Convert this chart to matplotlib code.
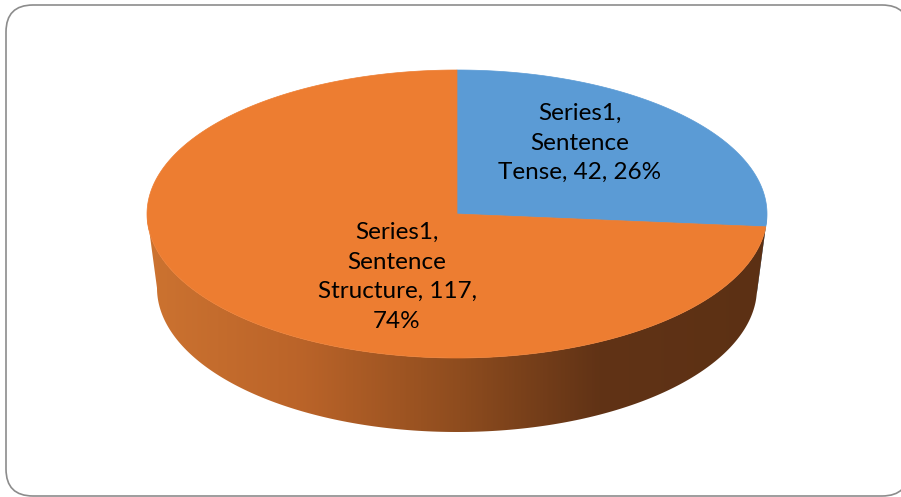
"""3D-style pie chart: Sentence Tense vs Sentence Structure"""

import textwrap

import matplotlib
matplotlib.use('Agg')
import matplotlib.pyplot as plt
import numpy as np
from matplotlib.patches import Polygon, FancyBboxPatch
from matplotlib.colors import LinearSegmentedColormap

# data
series_name = 'Series1'
categories = ['Sentence Tense', 'Sentence Structure']
values = [42, 117]
top_colors = ['#5B9BD5', '#ED7D31']
label_wrap = [14, 15]
label_pos = [(580, 143), (397, 277)]   # label centres in pixel coords

# geometry of the tilted pie (pixels)
cx, cy = 457, 214
a, b = 310, 144          # top ellipse
a2, b2 = 300, 144        # bottom ellipse (slight perspective)
depth = 74


def ellipse_pts(t, rx, ry, dy=0):
    return np.column_stack([cx + rx * np.cos(t), cy + dy - ry * np.sin(t)])


fig = plt.figure(figsize=(9.01, 4.97), dpi=100)
ax = fig.add_axes([0, 0, 1, 1])
ax.set_xlim(0, 901)
ax.set_ylim(497, 0)
ax.axis('off')

# chart frame (right edge runs just off the picture)
frame = FancyBboxPatch((6, 5), 903, 491, boxstyle='round,pad=0,rounding_size=27',
                       facecolor='white', edgecolor='#8c8c8c', lw=1.2, zorder=0)
ax.add_patch(frame)

total = sum(values)
fracs = [v / total for v in values]
starts, ends = [], []
ang = np.pi / 2
for f in fracs:
    starts.append(ang)
    ang -= f * 2 * np.pi
    ends.append(ang)

# side walls (front half only: angles between -pi and 0)
side_cmap = LinearSegmentedColormap.from_list('side', [
    (0.0, (0.80, 0.45, 0.19)),
    (0.25, (0.73, 0.39, 0.16)),
    (0.5, (0.56, 0.30, 0.12)),
    (0.73, (0.38, 0.20, 0.085)),
    (1.0, (0.36, 0.19, 0.08)),
])
grad = np.linspace(0, 1, 400).reshape(1, -1)
for i, (s, e) in enumerate(zip(starts, ends)):
    for k in (0, -2 * np.pi):
        lo = max(e, -np.pi + k)
        hi = min(s, 0 + k)
        if hi <= lo:
            continue
        t = np.linspace(hi, lo, 200)
        top = ellipse_pts(t, a, b)
        bot = ellipse_pts(t[::-1], a2, b2, depth)
        verts = np.vstack([top, bot])
        if i == 1:
            poly = Polygon(verts, closed=True, facecolor='none', edgecolor='none')
            ax.add_patch(poly)
            im = ax.imshow(grad, cmap=side_cmap, aspect='auto',
                           extent=(cx - a, cx + a, cy + b + depth, cy - b),
                           interpolation='bilinear', zorder=1)
            im.set_clip_path(poly)
        else:
            ax.add_patch(Polygon(verts, closed=True, facecolor='#2f5c86',
                                 edgecolor='none', zorder=1))

# top face wedges
for s, e, c in zip(starts, ends, top_colors):
    t = np.linspace(s, e, 300)
    verts = np.vstack([[cx, cy], ellipse_pts(t, a, b)])
    ax.add_patch(Polygon(verts, closed=True, facecolor=c, edgecolor=c,
                         lw=0.5, zorder=2))

# data labels
for cat, v, f, w, (lx, ly) in zip(categories, values, fracs, label_wrap, label_pos):
    txt = f'{series_name}, {cat}, {v}, {round(f * 100)}%'
    ax.text(lx, ly, textwrap.fill(txt, w), ha='center', va='center',
            fontsize=17.5, family='Lato', color='black', linespacing=1.5, zorder=3)

plt.savefig('out.png', dpi=100)
plt.close()
